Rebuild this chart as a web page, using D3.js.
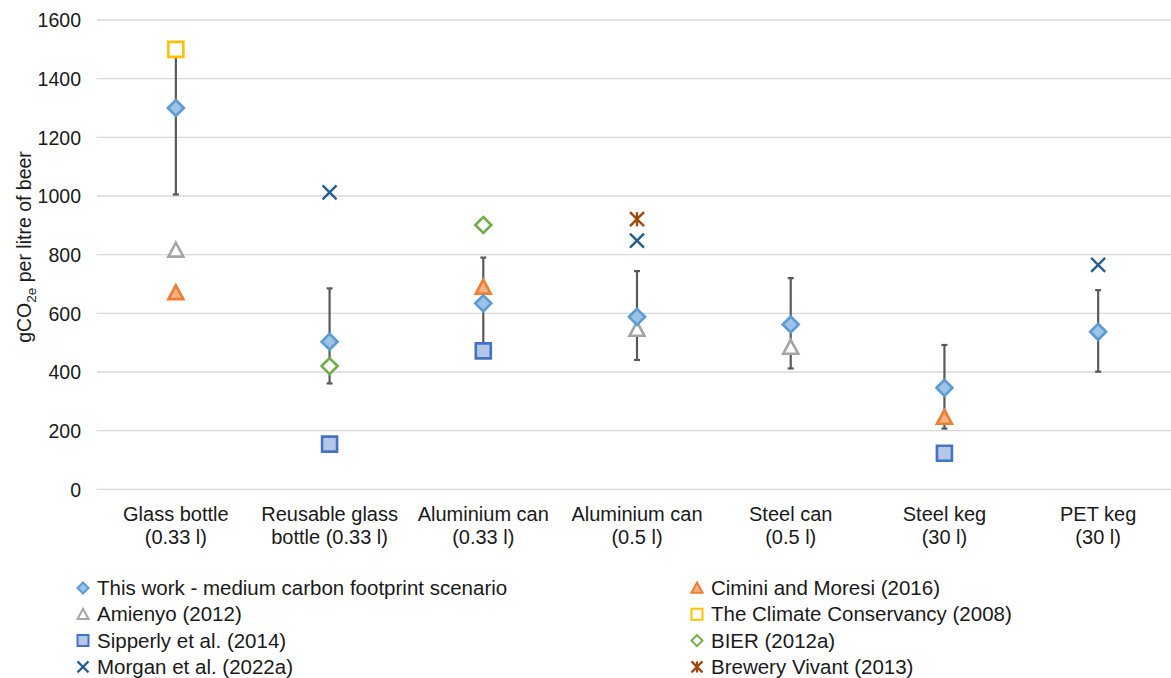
<!DOCTYPE html>
<html><head><meta charset="utf-8">
<script src="https://cdn.jsdelivr.net/npm/d3@7"></script>
<style>body{margin:0;background:#fff;} svg{display:block;font-family:"Liberation Sans",Arial,sans-serif;}</style>
</head><body>
<svg id="c" width="1171" height="678"></svg>
<script>
const categories = [["Glass bottle","(0.33 l)"],["Reusable glass","bottle (0.33 l)"],["Aluminium can","(0.33 l)"],["Aluminium can","(0.5 l)"],["Steel can","(0.5 l)"],["Steel keg","(30 l)"],["PET keg","(30 l)"]];
const catKeys = categories.map((c,i)=>"c"+i);
const yTicks = [0,200,400,600,800,1000,1200,1400,1600];
const thisWork = [1300, 503, 634, 588, 562, 346, 537];
const errLow  = [1005, 361, 470, 441, 412, 207, 401];
const errHigh = [1483, 685, 790, 744, 720, 492, 679];
const cimini = [670, null, 689, null, null, 245, null];
const amienyo = [815, null, null, 545, 484, null, null];
const climate = [1500, null, null, null, null, null, null];
const sipperly = [null, 154, 472, null, null, 123, null];
const bier = [null, 420, 901, null, null, null, null];
const morgan = [null, 1012, null, 848, null, null, 765];
const vivant = [null, null, null, 921, null, null, null];

const series = [
  {name:"This work - medium carbon footprint scenario", data:thisWork, shape:"diamond", fill:"#9dc3e6", stroke:"#5b9bd5", col:0},
  {name:"Cimini and Moresi (2016)", data:cimini, shape:"triangle", fill:"#f4b183", stroke:"#ed7d31", col:1},
  {name:"Amienyo (2012)", data:amienyo, shape:"triangle", fill:"#ffffff", stroke:"#a5a5a5", col:0},
  {name:"The Climate Conservancy (2008)", data:climate, shape:"square", fill:"#ffffff", stroke:"#ffc000", col:1},
  {name:"Sipperly et al. (2014)", data:sipperly, shape:"square", fill:"#b4c7e7", stroke:"#4472c4", col:0},
  {name:"BIER (2012a)", data:bier, shape:"diamond", fill:"#ffffff", stroke:"#70ad47", col:1},
  {name:"Morgan et al. (2022a)", data:morgan, shape:"x", fill:"none", stroke:"#255e91", col:0},
  {name:"Brewery Vivant (2013)", data:vivant, shape:"star", fill:"none", stroke:"#9e480e", col:1}
];

const svg = d3.select("#c");
const x = d3.scaleBand().domain(catKeys).range([99, 1175]);
const y = d3.scaleLinear().domain([0,1600]).range([489.3, 20]);

// gridlines
svg.append("g").selectAll("line").data(yTicks).join("line")
  .attr("x1",97).attr("x2",1171).attr("y1",d=>y(d)).attr("y2",d=>y(d))
  .attr("stroke","#d9d9d9").attr("stroke-width",1.3);

// y axis labels
const yAxis = d3.axisLeft(y).tickValues(yTicks).tickSize(0).tickPadding(0).tickFormat(d3.format("d"));
const ya = svg.append("g").attr("transform","translate(81,0)").call(yAxis);
ya.select(".domain").remove();
ya.selectAll("text").attr("font-size",19.5).attr("fill","#1a1a1a").attr("font-family","Liberation Sans, Arial, sans-serif").attr("dy","0.35em");

// x axis labels
const xAxis = d3.axisBottom(x).tickSize(0).tickFormat(()=>"");
const xa = svg.append("g").attr("transform","translate(0,489.3)").call(xAxis);
xa.select(".domain").remove();
xa.selectAll(".tick").each(function(d,i){
  const t = d3.select(this).append("text").attr("fill","#1a1a1a").attr("font-size",20).attr("text-anchor","middle");
  t.append("tspan").attr("x",0).attr("y",32).text(categories[i][0]);
  t.append("tspan").attr("x",0).attr("y",55).text(categories[i][1]);
});

// y title
const yt = svg.append("text").attr("transform","translate(24,247) rotate(-90)").attr("text-anchor","middle")
  .attr("dy","0.35em").attr("font-size",19.5).attr("fill","#1a1a1a");
yt.append("tspan").text("gCO");
yt.append("tspan").attr("font-size",13.5).attr("dy",5).text("2e");
yt.append("tspan").attr("dy",-5).text(" per litre of beer");

function markerPath(shape, s){
  const h=s/2;
  switch(shape){
    case "diamond": return `M0,${-h}L${h},0L0,${h}L${-h},0Z`;
    case "square": return `M${-h},${-h}H${h}V${h}H${-h}Z`;
    case "triangle": return `M0,${-h}L${h},${h*0.85}L${-h},${h*0.85}Z`;
    case "x": return `M${-h},${-h}L${h},${h}M${h},${-h}L${-h},${h}`;
    case "star": return `M${-h},${-h}L${h},${h}M${h},${-h}L${-h},${h}M0,${-h}V${h}`;
  }
}
const sizes = {diamond:16, square:15, triangle:15, x:14, star:14};

// error bars
const eb = svg.append("g");
catKeys.forEach((k,i)=>{
  const cx = x(k)+x.bandwidth()/2;
  eb.append("line").attr("x1",cx).attr("x2",cx).attr("y1",y(errLow[i])).attr("y2",y(errHigh[i])).attr("stroke","#595959").attr("stroke-width",2.2);
  [errLow[i],errHigh[i]].forEach(v=>eb.append("line").attr("x1",cx-3).attr("x2",cx+3).attr("y1",y(v)).attr("y2",y(v)).attr("stroke","#595959").attr("stroke-width",2.2));
});

// markers
const order = [2,1,3,4,5,6,7,0];
order.forEach(si=>{
  const s = series[si];
  svg.append("g").selectAll("path").data(s.data.map((v,i)=>({v,i})).filter(d=>d.v!=null)).join("path")
    .attr("transform",d=>`translate(${x(catKeys[d.i])+x.bandwidth()/2},${y(d.v)})`)
    .attr("d",markerPath(s.shape,sizes[s.shape]))
    .attr("fill",s.fill).attr("stroke",s.stroke).attr("stroke-width",s.shape==="x"||s.shape==="star"?2.4:2.6)
    .attr("stroke-linejoin","miter");
});

// legend
const lg = svg.append("g");
const colX = [83, 697];
const rowY0 = 588, rowH = 26.3;
const colCount=[0,0];
series.forEach(s=>{
  const r = colCount[s.col]++;
  const gy = rowY0 + r*rowH;
  const gx = colX[s.col];
  lg.append("path").attr("transform",`translate(${gx},${gy})`).attr("d",markerPath(s.shape,11))
    .attr("fill",s.fill).attr("stroke",s.stroke).attr("stroke-width",s.shape==="x"||s.shape==="star"?2.2:2);
  lg.append("text").attr("x",gx+14).attr("y",gy).attr("dy","0.35em").attr("font-size",20.5).attr("fill","#1a1a1a").text(s.name);
});
</script>
</body></html>
